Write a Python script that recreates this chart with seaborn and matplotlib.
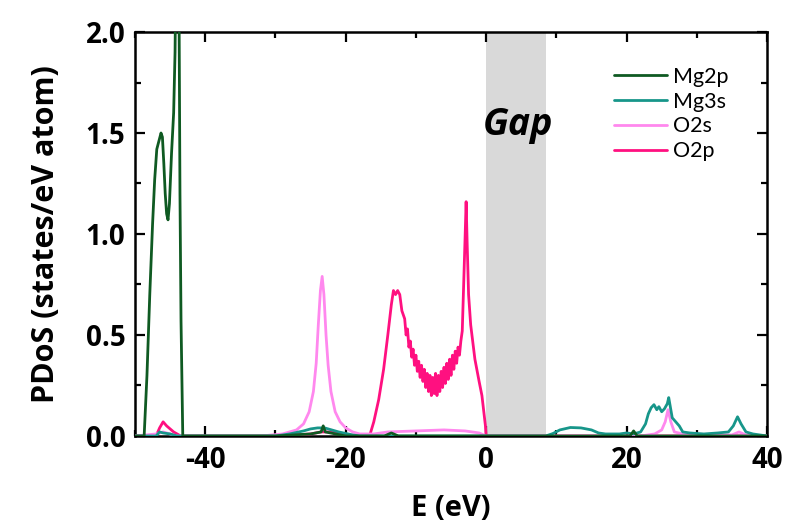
import numpy as np
import pandas as pd
import matplotlib
matplotlib.use("Agg")
import matplotlib.pyplot as plt
import seaborn as sns
from matplotlib.ticker import MultipleLocator

# ---------------- data ----------------
orbitals = ["Mg2p", "Mg3s", "O2s", "O2p"]
colors = ["#0f5a22", "#17968a", "#ff88ee", "#ff1080"]

mg2p_E = [-50, -48.7, -48.3, -47.9, -47.5, -47.2, -46.9, -46.6, -46.3, -46.1, -45.9,
          -45.7, -45.5, -45.3, -45.1, -44.8, -44.5, -44.3, -44.1, -43.8, -43.6, -43.45,
          -43.2, -30, -25, -23.5, -23.2, -22.9, -20, -14.5, -13.5, -12.5, -5, 0, 20.5,
          21, 21.5, 40]
mg2p_v = [0, 0, 0.3, 0.7, 1.05, 1.27, 1.42, 1.46, 1.50, 1.48, 1.35,
          1.2, 1.1, 1.07, 1.15, 1.4, 1.6, 1.9, 2.6, 2.6, 1.2, 0.57,
          0, 0, 0.01, 0.02, 0.05, 0.02, 0, 0, 0.015, 0, 0, 0, 0,
          0.025, 0, 0]

mg3s_E = [-50, -47, -46.5, -46, -45, -44, -30, -28, -26, -25, -24, -23, -22, -21, -19,
          -18, 8.5, 9.5, 10.5, 12, 13.5, 15, 16, 17, 19, 20, 21, 22, 22.7, 23.1, 23.5,
          23.9, 24.3, 24.6, 25.0, 25.4, 25.8, 26.0, 26.2, 26.5, 27.0, 27.5, 28, 29, 31,
          33, 34.5, 35.2, 35.8, 36.3, 37.0, 38, 40]
mg3s_v = [0, 0, 0.02, 0.015, 0.01, 0, 0, 0.01, 0.025, 0.035, 0.04, 0.04, 0.03, 0.02, 0.005,
          0, 0, 0.012, 0.03, 0.042, 0.04, 0.03, 0.015, 0.01, 0.01, 0.015, 0.01, 0.02, 0.06, 0.11, 0.14,
          0.155, 0.13, 0.145, 0.12, 0.135, 0.16, 0.19, 0.15, 0.09, 0.07, 0.05, 0.02, 0.015, 0.01,
          0.015, 0.02, 0.05, 0.095, 0.06, 0.02, 0.01, 0]

o2s_E = [-50, -47, -46, -45, -44, -32, -29, -27, -26, -25.2, -24.6, -24.2, -23.9, -23.6,
         -23.35, -23.1, -22.8, -22.5, -22.1, -21.5, -20.8, -20, -19, -18, -16, -14, -10,
         -6, -3, -1, 0, 22, 24, 25, 25.5, 25.9, 26.3, 26.8, 28, 35, 36, 37, 40]
o2s_v = [0, 0.01, 0.02, 0.01, 0, 0, 0.01, 0.03, 0.06, 0.12, 0.22, 0.36, 0.55, 0.72,
         0.79, 0.70, 0.50, 0.35, 0.22, 0.12, 0.07, 0.04, 0.02, 0.01, 0.01, 0.02, 0.025,
         0.03, 0.025, 0.015, 0, 0, 0.01, 0.03, 0.07, 0.13, 0.07, 0.02, 0.01, 0.005, 0.02, 0.005, 0]

o2p_E = [-50, -47, -46.5, -46, -45.5, -44.5, -43.5, -30, -25, -23.5, -22, -20, -17, -16.6,
         -16, -15.3, -14.6, -14.0, -13.5, -13.2, -12.9, -12.6, -12.3, -12.0, -11.8,
         -11.6, -11.4, -11.2, -11.0, -10.8, -10.6, -10.4, -10.2, -10.0, -9.8, -9.6, -9.4,
         -9.2, -9.0, -8.8, -8.6, -8.4, -8.2, -8.0, -7.8, -7.6, -7.4, -7.2, -7.0, -6.8,
         -6.6, -6.4, -6.2, -6.0, -5.8, -5.6, -5.4, -5.2, -5.0, -4.8, -4.6, -4.4, -4.2,
         -4.0, -3.8, -3.6, -3.4, -3.2, -3.0, -2.85, -2.7, -2.5, -2.2, -1.6, -1.0, -0.6,
         -0.1, 0, 40]
o2p_v = [0, 0, 0.04, 0.07, 0.05, 0.02, 0, 0, 0.01, 0.02, 0.02, 0.005, 0, 0,
         0.07, 0.18, 0.33, 0.50, 0.65, 0.72, 0.70, 0.72, 0.70, 0.62, 0.60,
         0.58, 0.50, 0.53, 0.44, 0.47, 0.39, 0.43, 0.35, 0.40, 0.32, 0.37, 0.29,
         0.35, 0.27, 0.33, 0.24, 0.31, 0.22, 0.30, 0.20, 0.29, 0.21, 0.31, 0.20, 0.30,
         0.22, 0.32, 0.24, 0.34, 0.26, 0.36, 0.28, 0.38, 0.30, 0.40, 0.33, 0.42, 0.36,
         0.44, 0.40, 0.47, 0.52, 0.75, 0.98, 1.16, 0.95, 0.70, 0.55, 0.38, 0.27, 0.20,
         0.05, 0, 0]

gap_start, gap_end = 0, 8.5

x_ticks = [-40, -20, 0, 20, 40]
y_ticks = [0.0, 0.5, 1.0, 1.5, 2.0]

# ---------------- frame ----------------
frames = []
for name, E, v in [("Mg2p", mg2p_E, mg2p_v), ("Mg3s", mg3s_E, mg3s_v),
                   ("O2s", o2s_E, o2s_v), ("O2p", o2p_E, o2p_v)]:
    frames.append(pd.DataFrame({"E": E, "PDoS": v, "orbital": name}))
df = pd.concat(frames, ignore_index=True)

sns.set_theme(style="ticks")
plt.rcParams["font.family"] = ["Open Sans", "DejaVu Sans"]
for k in ["text.color", "axes.labelcolor", "xtick.color", "ytick.color", "axes.edgecolor"]:
    plt.rcParams[k] = "black"

fig = plt.figure(figsize=(7.91, 5.30), dpi=100)
ax = fig.add_axes([0.1707, 0.1774, 0.799, 0.7622])

ax.axvspan(gap_start, gap_end, color="#d9d9d9", zorder=0, lw=0)

# draw in reverse so Mg2p is on top
for name, col in list(zip(orbitals, colors))[::-1]:
    sub = df[df["orbital"] == name]
    sns.lineplot(data=sub, x="E", y="PDoS", color=col, lw=2.0, ax=ax,
                 estimator=None, sort=False, label=name, zorder=3)

ax.set_xlim(-50, 40)
ax.set_ylim(0, 2.0)
ax.set_xticks(x_ticks)
ax.set_yticks(y_ticks)
ax.set_xticklabels([str(t) for t in x_ticks])
ax.set_yticklabels([f"{t:.1f}" for t in y_ticks])
ax.xaxis.set_minor_locator(MultipleLocator(10))
ax.yaxis.set_minor_locator(MultipleLocator(0.25))
ax.tick_params(which="both", direction="in", top=True, right=True, width=1.6, color="black")
ax.tick_params(which="major", length=7, labelsize=20, pad=7)
ax.tick_params(which="minor", length=4)
for lab in ax.get_xticklabels() + ax.get_yticklabels():
    lab.set_fontweight("bold")
for s in ax.spines.values():
    s.set_linewidth(1.8)
    s.set_color("black")

ax.set_xlabel("E (eV)", fontsize=21, fontweight="bold", labelpad=14)
ax.set_ylabel("PDoS (states/eV atom)", fontsize=22, fontweight="bold", labelpad=18)

ax.text(4.5, 1.54, "Gap", fontsize=27, fontweight="bold", fontstyle="italic",
        ha="center", va="center", color="black", zorder=5)

handles, labels = ax.get_legend_handles_labels()
order = [labels.index(o) for o in orbitals]
leg = ax.legend([handles[i] for i in order], [labels[i] for i in order],
                loc="upper left", bbox_to_anchor=(0.745, 0.935), frameon=False,
                prop={"family": "Lato", "size": 15.5}, handlelength=2.45,
                handletextpad=0.25, labelspacing=0.22, borderaxespad=0)
for t in leg.get_texts():
    t.set_color("black")

fig.savefig("out.png", dpi=100)
